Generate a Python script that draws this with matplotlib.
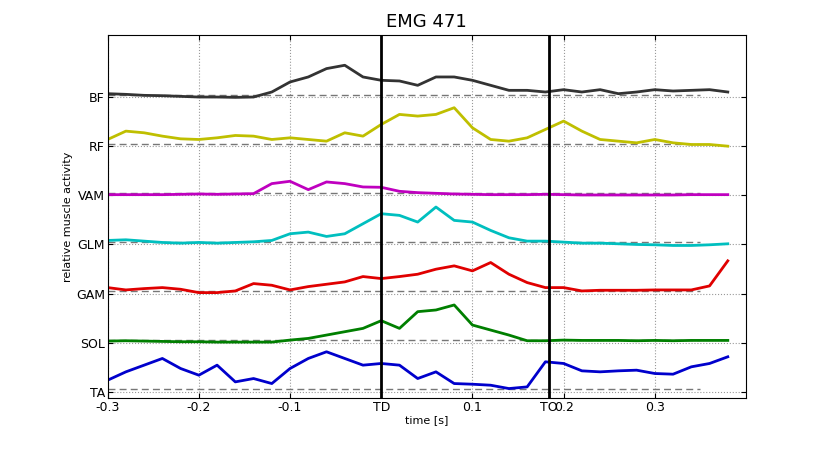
import numpy as np
import matplotlib
matplotlib.use("Agg")
import matplotlib.pyplot as plt

# time grid [s]
t = np.round(np.arange(-0.30, 0.381, 0.02), 2)

# activity offsets above each baseline (read in zoom pixels, 147 px = 1 unit)
BF = [10, 8, 5, 4, 2, 0, 0, -1, 0, 15, 45, 60, 85, 95, 60, 50, 48, 35, 60, 60,
      50, 35, 20, 20, 15, 22, 15, 22, 10, 15, 22, 18, 20, 22, 15]
RF = [20, 45, 40, 30, 22, 20, 25, 32, 30, 20, 25, 20, 15, 40, 30, 65, 95, 90, 95, 115,
      55, 20, 15, 25, 50, 75, 45, 20, 15, 10, 20, 10, 5, 5, 0]
VAM = [2, 2, 2, 2, 3, 4, 3, 4, 5, 35, 42, 17, 40, 35, 25, 24, 12, 8, 6, 4,
       3, 2, 2, 2, 3, 2, 1, 1, 1, 1, 1, 1, 2, 2, 2]
GLM = [12, 14, 10, 6, 4, 6, 4, 6, 8, 12, 32, 37, 24, 32, 62, 92, 87, 67, 112, 72,
       67, 42, 20, 10, 10, 7, 4, 4, 2, 0, -1, -3, -3, -1, 2]
GAM = [18, 11, 15, 18, 13, 3, 3, 8, 30, 25, 11, 21, 28, 35, 51, 45, 51, 58, 73, 83,
       68, 93, 58, 33, 18, 18, 8, 10, 10, 10, 11, 11, 11, 23, 98]
SOL = [5, 6, 5, 4, 3, 3, 2, 2, 2, 2, 8, 13, 23, 33, 43, 66, 43, 93, 98, 113,
       53, 38, 23, 6, 6, 8, 7, 7, 7, 6, 7, 6, 7, 7, 7]
TA = [35, 60, 80, 100, 70, 50, 80, 30, 40, 25, 70, 100, 120, 100, 80, 85, 80, 40, 60, 25,
      23, 20, 10, 15, 90, 85, 63, 60, 63, 65, 55, 53, 75, 85, 105]

muscles = ["TA", "SOL", "GAM", "GLM", "VAM", "RF", "BF"]
series = [TA, SOL, GAM, GLM, VAM, RF, BF]
colors = ["#0000cc", "#007f00", "#e00000", "#00bfbf", "#bf00bf", "#bfbf00", "#333333"]
TD, TO = 0.0, 0.184

fig = plt.figure(figsize=(8.28, 4.5), dpi=100)
ax = fig.add_axes([0.130, 0.116, 0.771, 0.806])

for i, (vals, c) in enumerate(zip(series, colors)):
    ax.plot([-0.3, 0.35], [i + 0.05, i + 0.05], ls="--", color="#777777", lw=1, dashes=(5, 3))
    ax.plot(t, i + np.array(vals) / 147.0, color=c, lw=2)

ax.axvline(TD, color="black", lw=2)
ax.axvline(TO, color="black", lw=2)

ax.set_xlim(-0.3, 0.4)
ax.set_ylim(-0.12, 7.26)
ax.set_xticks([-0.3, -0.2, -0.1, TD, 0.1, TO, 0.2, 0.3])
ax.set_xticklabels(["-0.3", "-0.2", "-0.1", "TD", "0.1", "TO", "0.2", "0.3"])
ax.set_yticks(range(len(muscles)))
ax.set_yticklabels(muscles)
ax.grid(True, ls=":", color="#999999", lw=0.8)
ax.tick_params(direction="in", right=True, top=True, labelsize=9, pad=2)
ax.set_title("EMG 471", fontsize=13)
ax.set_xlabel("time [s]", fontsize=8, labelpad=1)
ax.set_ylabel("relative muscle activity", fontsize=8, labelpad=2)

fig.savefig("out.png", dpi=100)
